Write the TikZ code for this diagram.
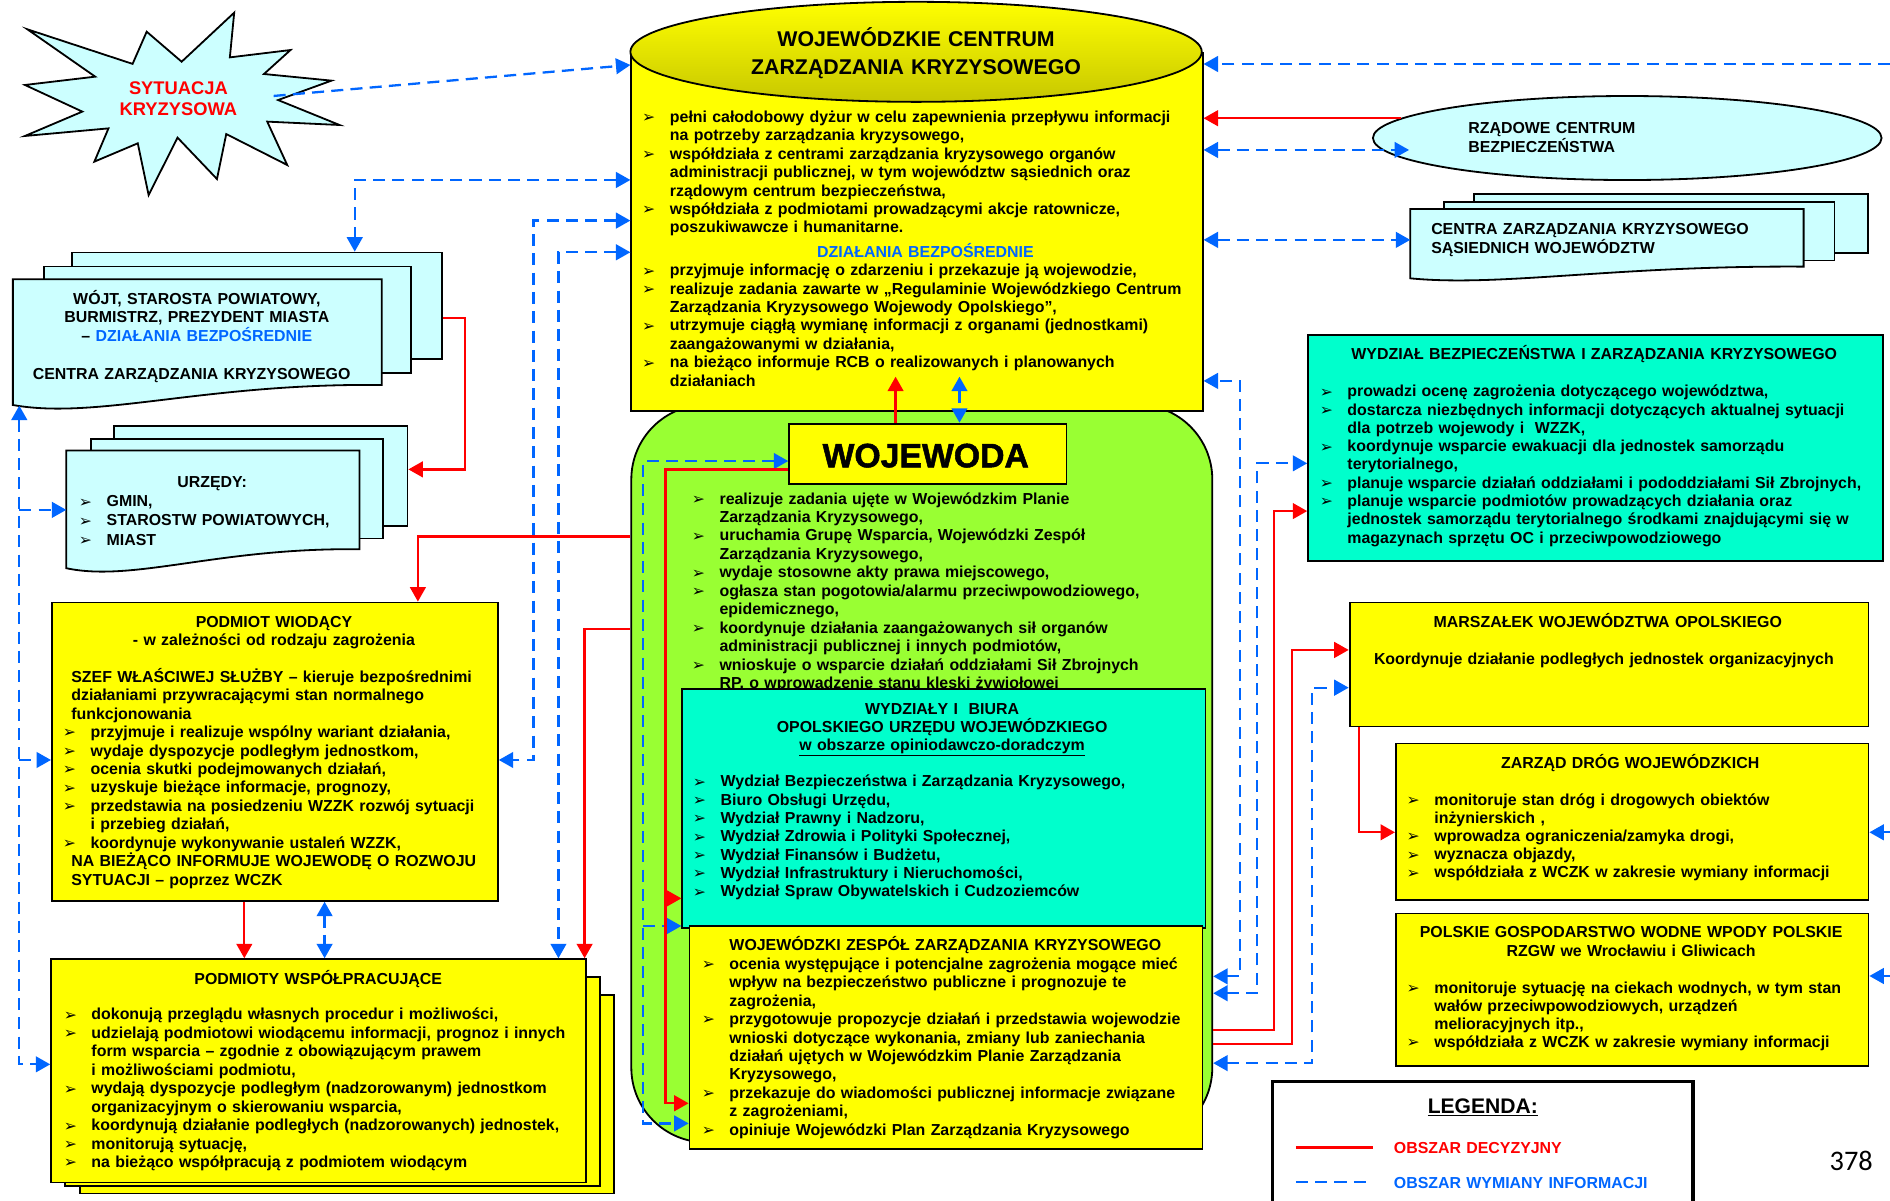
\documentclass[tikz,border=0pt]{standalone}
\usepackage{fontspec}
\setmainfont{Liberation Sans}
\newfontfamily\symfont{DejaVu Sans}
\newfontfamily\numfont{Carlito}
\newfontfamily\heavyfont{Liberation Sans}[FakeBold=1.5]
\usetikzlibrary{arrows.meta,shapes.geometric}
\definecolor{infoblue}{RGB}{0,102,255}
\definecolor{decred}{RGB}{255,0,0}
\definecolor{lcyan}{RGB}{204,255,255}
\definecolor{tcyan}{RGB}{0,255,204}
\definecolor{limeg}{RGB}{153,255,51}
\definecolor{yel}{RGB}{255,255,0}
\newcommand{\bodyfont}{\fontsize{13.2}{15.3}\selectfont\bfseries}
\newcommand{\bl}{\makebox[23pt][l]{\raisebox{-0.3pt}{\symfont\fontsize{13}{13}\selectfont ➢}}}
\newcommand{\ind}{\hspace*{23pt}}
\tikzset{
  box/.style={draw=black, line width=1.5pt, inner sep=0pt, anchor=north west},
  ghost/.style={inner sep=0pt, anchor=north west},
  txt/.style={anchor=base west, inner sep=0pt, align=left, text width=#1, font=\bodyfont},
  ctxt/.style={anchor=base, inner sep=0pt, align=center, text width=#1, font=\bodyfont},
  info/.style={draw=infoblue, line width=1.9pt, dash pattern=on 10pt off 6pt},
  dec/.style={draw=decred, line width=1.9pt},
  endtip/.style={-{Triangle[length=12pt,width=13pt]}},
  twotips/.style={{Triangle[length=12pt,width=13pt]}-{Triangle[length=12pt,width=13pt]}},
}
\begin{document}
\begin{tikzpicture}[x=1pt,y=-1pt]
\useasboundingbox (0,0) rectangle (1568,996);
\fill[white] (0,0) rectangle (1568,996);

% ---------------- starburst
\draw[line width=1.5pt, fill=lcyan] (22.7,24.3) -- (110,53) -- (121.7,26.3) -- (150.7,51.2) -- (194.3,10.5) -- (190.7,47.6) -- (241,41.5) -- (219,61.4) -- (275,66.9) -- (230.7,83) -- (281.7,103.7) -- (221.7,100.9) -- (238.3,136.9) -- (187.7,111.2) -- (180,148.5) -- (147.3,114.2) -- (123.3,161.8) -- (114.3,118.9) -- (78.3,134.1) -- (90,106.5) -- (20.7,112.8) -- (68.3,92.6) -- (20.7,70.5) -- (79,63.6) -- cycle;
\node[ghost, minimum width=261pt, minimum height=151pt] (burst) at (20.7,10.5) {};
\coordinate (burst-out) at (227,79.6);
\node[ctxt=130pt, font=\fontsize{15.2}{17.5}\selectfont\bfseries, text=decred] (burst-txt) at (148,78) {SYTUACJA\\KRYZYSOWA};

% ---------------- WOJT
\node[box, fill=lcyan, minimum width=306.7pt, minimum height=88.5pt] (wojtC) at (59.3,208.8) {};
\node[box, fill=lcyan, minimum width=304pt, minimum height=88pt] (wojtB) at (36,220.4) {};
\draw[line width=1.5pt, fill=lcyan] (10.7,231.7) -- (316.7,231.7) -- (316.7,319.4) .. controls (169.8,317.7) and (80.7,348.5) .. (10.7,336) -- cycle;
\node[ghost, minimum width=306pt, minimum height=104pt] (wojtA) at (10.7,231.7) {};
\coordinate (wojtA-foot) at (16,336.5);
\node[ctxt=300pt] (wojt-txt) at (163.3,252.3) {WÓJT, STAROSTA POWIATOWY,\\BURMISTRZ, PREZYDENT MIASTA\\– {\color{infoblue}DZIAŁANIA BEZPOŚREDNIE}};
\node[ctxt=300pt] (wojt-czk) at (159,314.5) {CENTRA ZARZĄDZANIA KRYZYSOWEGO};

% ---------------- URZEDY
\node[box, fill=lcyan, minimum width=243.3pt, minimum height=83pt] (urzC) at (94,352.5) {};
\node[box, fill=lcyan, minimum width=241.7pt, minimum height=82.4pt] (urzB) at (75,363.6) {};
\draw[line width=1.5pt, fill=lcyan] (55,373.8) -- (298.3,373.8) -- (298.3,455.7) .. controls (181.5,454.1) and (111,483.2) .. (55,471.4) -- cycle;
\node[ghost, minimum width=243.3pt, minimum height=100pt] (urzA) at (55,373.8) {};
\node[ctxt=200pt] (urz-title) at (176,404.3) {URZĘDY:};
\node[txt=230pt, font=\fontsize{13.2}{15.9}\selectfont\bfseries] (urz-list) at (65.3,420.4) {\bl GMIN,\\\bl STAROSTW POWIATOWYCH,\\\bl MIAST};

% ---------------- PODMIOT WIODACY
\node[box, fill=yel, minimum width=370pt, minimum height=247.5pt] (pw) at (42.3,499.1) {};
\node[ctxt=360pt] (pw-title) at (227.3,520.5) {PODMIOT WIODĄCY\\- w zależności od rodzaju zagrożenia};
\node[txt=362pt] (pw-list) at (52,566) {\hspace*{7pt}SZEF WŁAŚCIWEJ SŁUŻBY – kieruje bezpośrednimi\\
\hspace*{7pt}działaniami przywracającymi stan normalnego\\
\hspace*{7pt}funkcjonowania\\
\bl przyjmuje i realizuje wspólny wariant działania,\\
\bl wydaje dyspozycje podległym jednostkom,\\
\bl ocenia skutki podejmowanych działań,\\
\bl uzyskuje bieżące informacje, prognozy,\\
\bl przedstawia na posiedzeniu WZZK rozwój sytuacji\\
\ind i przebieg działań,\\
\bl koordynuje wykonywanie ustaleń WZZK,\\
\hspace*{7pt}NA BIEŻĄCO INFORMUJE WOJEWODĘ O ROZWOJU\\
\hspace*{7pt}SYTUACJI – poprzez WCZK};

% ---------------- PODMIOTY WSPOLPRACUJACE
\node[box, fill=yel, minimum width=443.4pt, minimum height=164.8pt] (pwsC) at (65.3,824.6) {};
\node[box, fill=yel, minimum width=443.8pt, minimum height=173.3pt] (pwsB) at (53.5,809.7) {};
\node[box, fill=yel, minimum width=444pt, minimum height=185.3pt] (pwsA) at (41.7,795) {};
\node[ctxt=400pt] (pws-title) at (264,816.4) {PODMIOTY WSPÓŁPRACUJĄCE};
\node[txt=440pt] (pws-list) at (52.7,846.2) {\bl dokonują przeglądu własnych procedur i możliwości,\\
\bl udzielają podmiotowi wiodącemu informacji, prognoz i innych\\
\ind form wsparcia – zgodnie z obowiązującym prawem\\
\ind i możliwościami podmiotu,\\
\bl wydają dyspozycje podległym (nadzorowanym) jednostkom\\
\ind organizacyjnym o skierowaniu wsparcia,\\
\bl koordynują działanie podległych (nadzorowanych) jednostek,\\
\bl monitorują sytuację,\\
\bl na bieżąco współpracują z podmiotem wiodącym};

% ---------------- green group + WCZK
\node[box, fill=limeg, rounded corners=62pt, minimum width=482pt, minimum height=612pt] (grp) at (523,335) {};
\node[box, fill=yel, minimum width=474pt, minimum height=297pt] (wczk) at (523,43) {};
\node[ellipse, draw=black, line width=1.5pt, inner sep=0pt, minimum width=474pt, minimum height=83pt, top color=yel, bottom color=yel!78!black] (wczktop) at (760,43) {};
\node[ctxt=460pt, font=\fontsize{17.7}{23}\selectfont\bfseries] (wczk-title) at (760,38.4) {WOJEWÓDZKIE CENTRUM\\ZARZĄDZANIA KRYZYSOWEGO};
\node[txt=480pt] (wczk-list1) at (532.6,101.5) {\bl pełni całodobowy dyżur w celu zapewnienia przepływu informacji\\
\ind na potrzeby zarządzania kryzysowego,\\
\bl współdziała z centrami zarządzania kryzysowego organów\\
\ind administracji publicznej, w tym województw sąsiednich oraz\\
\ind rządowym centrum bezpieczeństwa,\\
\bl współdziała z podmiotami prowadzącymi akcje ratownicze,\\
\ind poszukiwawcze i humanitarne.};
\node[ctxt=300pt, text=infoblue] (wczk-head) at (767.8,214) {DZIAŁANIA BEZPOŚREDNIE};
\node[txt=480pt] (wczk-list2) at (532.6,228.7) {\bl przyjmuje informację o zdarzeniu i przekazuje ją wojewodzie,\\
\bl realizuje zadania zawarte w „Regulaminie Wojewódzkiego Centrum\\
\ind Zarządzania Kryzysowego Wojewody Opolskiego”,\\
\bl utrzymuje ciągłą wymianę informacji z organami (jednostkami)\\
\ind zaangażowanymi w działania,\\
\bl na bieżąco informuje RCB o realizowanych i planowanych\\
\ind działaniach};

% ---------------- WOJEWODA
\node[box, fill=yel, minimum width=230pt, minimum height=50.3pt] (woj) at (654,350.7) {};
\node[font=\heavyfont\bfseries\fontsize{28}{30}\selectfont, inner sep=0pt] (woj-txt) at (768,378) {WOJEWODA};
\node[txt=425pt] (woj-list) at (573.8,418.2) {\bl realizuje zadania ujęte w Wojewódzkim Planie\\
\ind Zarządzania Kryzysowego,\\
\bl uruchamia Grupę Wsparcia, Wojewódzki Zespół\\
\ind Zarządzania Kryzysowego,\\
\bl wydaje stosowne akty prawa miejscowego,\\
\bl ogłasza stan pogotowia/alarmu przeciwpowodziowego,\\
\ind epidemicznego,\\
\bl koordynuje działania zaangażowanych sił organów\\
\ind administracji publicznej i innych podmiotów,\\
\bl wnioskuje o wsparcie działań oddziałami Sił Zbrojnych\\
\ind RP, o wprowadzenie stanu klęski żywiołowej};

% ---------------- WYDZIALY I BIURA
\node[box, fill=tcyan, minimum width=434.1pt, minimum height=197.8pt] (wydz) at (565.3,571) {};
\node[ctxt=425pt, font=\fontsize{13.2}{15}\selectfont\bfseries] (wydz-title) at (781.6,592.4) {WYDZIAŁY I\ \ BIURA\\OPOLSKIEGO URZĘDU WOJEWÓDZKIEGO\\\underline{w obszarze opiniodawczo-doradczym}};
\node[txt=420pt, font=\fontsize{13.2}{15.2}\selectfont\bfseries] (wydz-list) at (574.7,652.7) {\bl Wydział Bezpieczeństwa i Zarządzania Kryzysowego,\\
\bl Biuro Obsługi Urzędu,\\
\bl Wydział Prawny i Nadzoru,\\
\bl Wydział Zdrowia i Polityki Społecznej,\\
\bl Wydział Finansów i Budżetu,\\
\bl Wydział Infrastruktury i Nieruchomości,\\
\bl Wydział Spraw Obywatelskich i Cudzoziemców};

% ---------------- WZZK
\node[box, fill=yel, minimum width=425.6pt, minimum height=185.3pt] (wzzk) at (571.3,767.4) {};
\node[txt=420pt] (wzzk-list) at (582,788.8) {\ind WOJEWÓDZKI ZESPÓŁ ZARZĄDZANIA KRYZYSOWEGO\\
\bl ocenia występujące i potencjalne zagrożenia mogące mieć\\
\ind wpływ na bezpieczeństwo publiczne i prognozuje te\\
\ind zagrożenia,\\
\bl przygotowuje propozycje działań i przedstawia wojewodzie\\
\ind wnioski dotyczące wykonania, zmiany lub zaniechania\\
\ind działań ujętych w Wojewódzkim Planie Zarządzania\\
\ind Kryzysowego,\\
\bl przekazuje do wiadomości publicznej informacje związane\\
\ind z zagrożeniami,\\
\bl opiniuje Wojewódzki Plan Zarządzania Kryzysowego};

% ---------------- RCB
\node[ellipse, draw=black, line width=1.5pt, fill=lcyan, inner sep=0pt, minimum width=422pt, minimum height=69.7pt] (rcb) at (1350,114.5) {};
\node[txt=250pt, font=\fontsize{13.2}{15.8}\selectfont\bfseries] (rcb-txt) at (1218,110.7) {RZĄDOWE CENTRUM\\BEZPIECZEŃSTWA};

% ---------------- CENTRA sasiednich
\node[box, fill=lcyan, minimum width=327.5pt, minimum height=48.9pt] (centraC) at (1221.8,160.4) {};
\node[box, fill=lcyan, minimum width=324.2pt, minimum height=48.7pt] (centraB) at (1197,166.7) {};
\draw[line width=1.5pt, fill=lcyan] (1170,173.4) -- (1496.3,173.4) -- (1496.3,221.2) .. controls (1339.7,220.2) and (1245,238.2) .. (1170,230.9) -- cycle;
\node[ghost, minimum width=326.3pt, minimum height=58pt] (centraA) at (1170,173.4) {};
\node[txt=310pt, font=\fontsize{13.2}{15.7}\selectfont\bfseries] (centra-txt) at (1187.2,194.2) {CENTRA ZARZĄDZANIA KRYZYSOWEGO\\SĄSIEDNICH WOJEWÓDZTW};

% ---------------- WYDZIAL BEZPIECZENSTWA
\node[box, fill=tcyan, minimum width=477.1pt, minimum height=187.5pt] (wbzk) at (1084.5,277.1) {};
\node[ctxt=470pt] (wbzk-title) at (1322.6,297.9) {WYDZIAŁ BEZPIECZEŃSTWA I ZARZĄDZANIA KRYZYSOWEGO};
\node[txt=470pt, font=\fontsize{13.2}{15.2}\selectfont\bfseries] (wbzk-list) at (1094.7,329.1) {\bl prowadzi ocenę zagrożenia dotyczącego województwa,\\
\bl dostarcza niezbędnych informacji dotyczących aktualnej sytuacji\\
\ind dla potrzeb wojewody i\ \ WZZK,\\
\bl koordynuje wsparcie ewakuacji dla jednostek samorządu\\
\ind terytorialnego,\\
\bl planuje wsparcie działań oddziałami i pododdziałami Sił Zbrojnych,\\
\bl planuje wsparcie podmiotów prowadzących działania oraz\\
\ind jednostek samorządu terytorialnego środkami znajdującymi się w\\
\ind magazynach sprzętu OC i przeciwpowodziowego};

% ---------------- MARSZALEK
\node[box, fill=yel, minimum width=430.5pt, minimum height=102.9pt] (marsz) at (1118.9,499.1) {};
\node[ctxt=420pt] (marsz-title) at (1333.9,520.5) {MARSZAŁEK WOJEWÓDZTWA OPOLSKIEGO};
\node[txt=410pt] (marsz-txt) at (1139.7,551) {Koordynuje działanie podległych jednostek organizacyjnych};

% ---------------- ZARZAD DROG
\node[box, fill=yel, minimum width=392.1pt, minimum height=130pt] (zdw) at (1157.3,616.1) {};
\node[ctxt=380pt] (zdw-title) at (1352.5,637.5) {ZARZĄD DRÓG WOJEWÓDZKICH};
\node[txt=380pt, font=\fontsize{13.2}{15.1}\selectfont\bfseries] (zdw-list) at (1166.8,667.9) {\bl monitoruje stan dróg i drogowych obiektów\\
\ind inżynierskich ,\\
\bl wprowadza ograniczenia/zamyka drogi,\\
\bl wyznacza objazdy,\\
\bl współdziała z WCZK w zakresie wymiany informacji};

% ---------------- PGW WODY POLSKIE
\node[box, fill=yel, minimum width=392.1pt, minimum height=126.4pt] (pgw) at (1157.3,757.1) {};
\node[ctxt=390pt, font=\fontsize{13.2}{15.8}\selectfont\bfseries] (pgw-title) at (1353.2,777.7) {POLSKIE GOSPODARSTWO WODNE WPODY POLSKIE\\RZGW we Wrocławiu i Gliwicach};
\node[txt=380pt, font=\fontsize{13.2}{15}\selectfont\bfseries] (pgw-list) at (1166.8,824.1) {\bl monitoruje sytuację na ciekach wodnych, w tym stan\\
\ind wałów przeciwpowodziowych, urządzeń\\
\ind melioracyjnych itp.,\\
\bl współdziała z WCZK w zakresie wymiany informacji};

% ---------------- LEGEND
\draw[line width=3pt] (1055.8,1010) -- (1055.8,897.3) -- (1404.4,897.3) -- (1404.4,1010);
\node[ghost, minimum width=348.6pt, minimum height=100pt] (legend) at (1055.8,897.3) {};
\node[ctxt=200pt, font=\fontsize{17.5}{20}\selectfont\bfseries] (leg-title) at (1230.2,923.8) {\underline{LEGENDA:}};
\draw[dec] (1075.1,952.1) -- (1139,952.1);
\node[txt=240pt, text=decred] (leg-dec) at (1156.2,956.8) {OBSZAR DECYZYJNY};
\draw[info] (1075.1,980.9) -- (1139,980.9);
\node[txt=240pt, text=infoblue] (leg-info) at (1156.2,985.7) {OBSZAR WYMIANY INFORMACJI};
\node[anchor=base, inner sep=0pt, font=\numfont\fontsize{23.5}{25}\selectfont] (pagenum) at (1535.8,971.2) {378};

% ================= CONNECTORS
% info (blue dashed)
\draw[info, endtip] (burst-out) -- (wczk.west |- 0,53.9);
\draw[info, twotips] (wczk.west |- 0,149.3) -| (wojtC.north -| 294.3,0);
\draw[info, twotips] (wczk.west |- 0,183) -- (442.7,183) -- (442.7,630.5) -- (pw.east |- 0,630.5);
\draw[info, twotips] (wczk.west |- 0,209.3) -| (pwsA.north -| 463.3,0);
\draw[info, twotips] (wojtA-foot) -- (16,883) -- (pwsA.west |- 0,883);
\draw[info, endtip] (16,423) -- (urzA.west |- 0,423);
\draw[info, endtip] (16,630.5) -- (pw.west |- 0,630.5);
\draw[info, twotips] (pw.south -| 269.3,0) -- (pwsA.north -| 269.3,0);
\draw[info, twotips] (woj.west |- 0,382.5) -- (533.5,382.5) -- (533.5,932) -- (wzzk.west |- 0,932);
\draw[info, endtip] (533.5,768.2) -- (wydz.west |- 0,768.2);
\draw[info, twotips] (796,312.5) -- (woj.north -| 796,0);
\draw[info, endtip] (1568,53.1) -- (wczk.east |- 0,53.1);
\draw[info, twotips] (wczk.east |- 0,124.4) -- (1169,124.4);
\draw[info, twotips] (wczk.east |- 0,199) -- (centraA.west |- 0,199);
\draw[info, twotips] (grp.east |- 0,810) -- (1029,810) -- (1029,316) -- (wczk.east |- 0,316);
\draw[info, twotips] (grp.east |- 0,824) -- (1043,824) -- (1043,384.4) -- (wbzk.west |- 0,384.4);
\draw[info, twotips] (grp.east |- 0,882) -- (1088.6,882) -- (1088.6,570.5) -- (marsz.west |- 0,570.5);
\draw[info, endtip] (1568,690.5) -- (zdw.east |- 0,690.5);
\draw[info, endtip] (1568,809.7) -- (pgw.east |- 0,809.7);
% decision (red)
\draw[dec, endtip] (wojtC.east |- 0,264) -- (386,264) -- (386,389.4) -- (urzC.east |- 0,389.4);
\draw[dec, endtip] (grp.west |- 0,445) -- (346.7,445) -- (pw.north -| 346.7,0);
\draw[dec, endtip] (grp.west |- 0,521.6) -- (485,521.6) -- (pwsA.north -| 485,0);
\draw[dec, endtip] (pw.south -| 202.7,0) -- (pwsA.north -| 202.7,0);
\draw[dec, endtip] (woj.west |- 0,389.4) -- (552,389.4) -- (552,915.3) -- (wzzk.west |- 0,915.3);
\draw[dec, endtip] (552,745.3) -- (wydz.west |- 0,745.3);
\draw[dec, endtip] (woj.north -| 743,0) -- (743,312.5);
\draw[dec, endtip] (rcb.175) -- (wczk.east |- rcb.175);
\draw[dec, endtip] (grp.east |- 0,854.5) -- (1056.8,854.5) -- (1056.8,424) -- (wbzk.west |- 0,424);
\draw[dec, endtip] (grp.east |- 0,866.4) -- (1072.1,866.4) -- (1072.1,539.2) -- (marsz.west |- 0,539.2);
\draw[dec, endtip] (marsz.south -| 1127.7,0) -- (1127.7,690.5) -- (zdw.west |- 0,690.5);
\end{tikzpicture}
\end{document}
